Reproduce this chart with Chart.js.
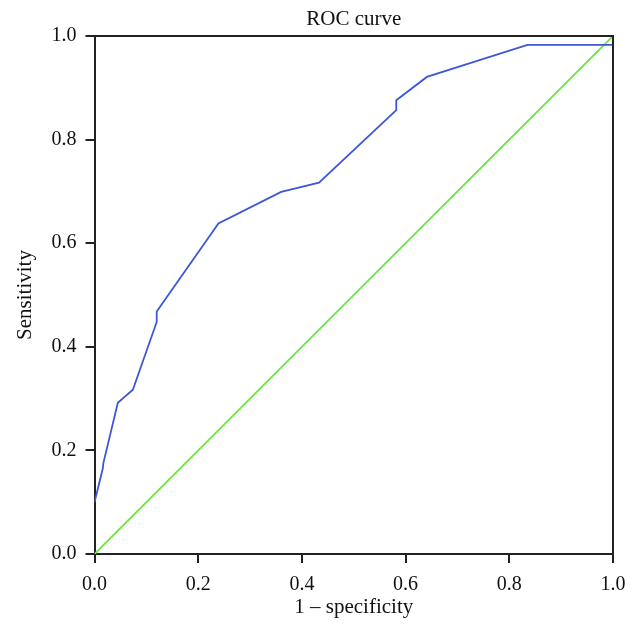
<!DOCTYPE html>
<html>
<head>
<meta charset="utf-8">
<script src="https://cdn.jsdelivr.net/npm/chart.js@4"></script>
<style>
  html, body { margin: 0; padding: 0; background: #fff; }
  #wrap { width: 639px; height: 638px; }
</style>
</head>
<body>
<div id="wrap"><canvas id="roc-chart"></canvas></div>
<script>
// ROC curve values
const rocFpr = [0, 0.016, 0.017, 0.045, 0.074, 0.12, 0.12, 0.239, 0.36, 0.433, 0.582, 0.582, 0.641, 0.835, 1, 1];
const rocTpr = [0.10, 0.165, 0.175, 0.292, 0.317, 0.448, 0.468, 0.638, 0.699, 0.717, 0.857, 0.876, 0.921, 0.983, 0.983, 1];
const refX = [0, 1];
const refY = [0, 1];
const tickValues = [0, 0.2, 0.4, 0.6, 0.8, 1.0];

const serif = "'Liberation Serif', 'DejaVu Serif', serif";

// cadre complet autour de la zone de tracé
const frame = {
    id: 'frame',
    afterDraw(chart) {
        const { ctx, chartArea: a } = chart;
        ctx.save();
        ctx.strokeStyle = '#222';
        ctx.lineWidth = 2;
        ctx.beginPath();
        ctx.moveTo(a.left, a.top);
        ctx.lineTo(a.right, a.top);
        ctx.lineTo(a.right, a.bottom);
        ctx.stroke();
        ctx.restore();
    }
};

const toPoints = (xs, ys) => xs.map((x, i) => ({ x: x, y: ys[i] }));

new Chart(document.getElementById('roc-chart'), {
    type: 'scatter',
    data: {
        datasets: [{
            data: toPoints(rocFpr, rocTpr),
            showLine: true,
            borderColor: '#3d57d8',
            borderWidth: 1.8,
            pointRadius: 0,
            tension: 0
        }, {
            data: toPoints(refX, refY),
            showLine: true,
            borderColor: '#66e83c',
            borderWidth: 1.8,
            pointRadius: 0,
            tension: 0
        }]
    },
    options: {
        responsive: true,
        maintainAspectRatio: false,
        animation: false,
        layout: { padding: { left: 0, right: 26, top: 0, bottom: 0 } },
        plugins: {
            legend: { display: false },
            tooltip: { enabled: false },
            title: {
                display: true,
                text: 'ROC curve',
                fullSize: false,
                color: '#111',
                font: { family: serif, size: 21, weight: 'normal' },
                padding: { top: 6.4, bottom: 4.4 }
            }
        },
        scales: {
            x: {
                type: 'linear',
                min: 0,
                max: 1,
                afterBuildTicks: s => { s.ticks = tickValues.map(v => ({ value: v })); },
                afterFit: s => { s.height = 84; },
                ticks: {
                    color: '#111',
                    padding: 9.5,
                    font: { family: serif, size: 20 },
                    callback: v => v.toFixed(1)
                },
                grid: { drawOnChartArea: false, drawTicks: true, tickLength: 9, color: '#222', lineWidth: 2 },
                border: { color: '#222', width: 2 },
                title: {
                    display: true,
                    text: '1 – specificity',
                    color: '#111',
                    font: { family: serif, size: 21 },
                    padding: { top: 0, bottom: 18.4 }
                }
            },
            y: {
                type: 'linear',
                min: 0,
                max: 1,
                afterBuildTicks: s => { s.ticks = tickValues.map(v => ({ value: v })); },
                afterFit: s => { s.width = 94.5; },
                ticks: {
                    color: '#111',
                    padding: 9,
                    font: { family: serif, size: 20 },
                    callback: v => v.toFixed(1)
                },
                grid: { drawOnChartArea: false, drawTicks: true, tickLength: 9, color: '#222', lineWidth: 2 },
                border: { color: '#222', width: 2 },
                title: {
                    display: true,
                    text: 'Sensitivity',
                    color: '#111',
                    font: { family: serif, size: 21 },
                    padding: { top: 12.4, bottom: 0 }
                }
            }
        }
    },
    plugins: [frame]
});
</script>
</body>
</html>
